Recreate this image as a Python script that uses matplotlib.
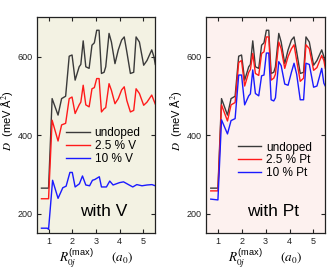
import numpy as np
import matplotlib
matplotlib.use("Agg")
import matplotlib.pyplot as plt

plt.rcParams['font.family'] = ['Liberation Sans', 'DejaVu Sans']
plt.rcParams['mathtext.fontset'] = 'stix'

# --- data ---
x_main = [0.7, 1.0, 1.15, 1.4, 1.55, 1.72, 1.87, 1.99, 2.12, 2.29,
          2.36, 2.46, 2.57, 2.71, 2.83, 2.93, 3.03, 3.13, 3.23, 3.34,
          3.41, 3.55, 3.65, 3.8, 3.94, 4.08, 4.19, 4.3, 4.45, 4.59,
          4.69, 4.83, 5.01, 5.15, 5.35, 5.44, 5.5]
undoped = [265, 265, 493, 451, 493, 499, 601, 604, 540, 574,
           580, 640, 574, 570, 629, 635, 667, 667, 557, 560,
           574, 659, 637, 582, 617, 642, 650, 612, 557, 560,
           650, 637, 578, 590, 617, 600, 580]
v25 = [238, 238, 438, 385, 426, 430, 493, 497, 455, 477,
       484, 527, 477, 472, 518, 521, 544, 544, 459, 467,
       470, 531, 514, 480, 493, 515, 523, 488, 459, 463,
       518, 506, 476, 484, 502, 488, 479]
pt25 = [258, 258, 477, 436, 477, 483, 585, 590, 525, 560,
        567, 608, 557, 552, 608, 612, 650, 650, 540, 545,
        555, 637, 620, 570, 600, 620, 630, 590, 537, 545,
        630, 620, 565, 572, 603, 590, 570]
pt10 = [237, 235, 439, 403, 437, 442, 553, 553, 477, 500,
        505, 566, 506, 500, 551, 553, 609, 609, 490, 487,
        495, 587, 577, 530, 527, 560, 583, 555, 490, 490,
        583, 580, 522, 525, 570, 532, 525]

x_v10 = [0.7, 0.95, 1.0, 1.17, 1.4, 1.6, 1.74, 1.9, 2.0, 2.12,
         2.3, 2.43, 2.57, 2.73, 2.85, 2.95, 3.14, 3.23, 3.44, 3.58,
         3.72, 3.99, 4.16, 4.37, 4.55, 4.72, 4.94, 5.15, 5.36, 5.5]
v10 = [163, 163, 160, 285, 239, 266, 270, 305, 305, 268,
       276, 296, 273, 271, 285, 287, 294, 268, 268, 283,
       273, 279, 281, 274, 268, 274, 271, 273, 274, 271]

xticks = [1, 2, 3, 4, 5]
yticks = [200, 400, 600]

W, H = 334, 271
fig = plt.figure(figsize=(W / 100, H / 100), dpi=100)

ax1 = fig.add_axes([36.7 / W, 1 - 233.3 / H, 118.6 / W, 216 / H])
ax2 = fig.add_axes([206 / W, 1 - 233.3 / H, 119.3 / W, 216 / H])

gray, red, blue = '#3a3a3a', '#ff1a1a', '#1a1aff'

ax1.plot(x_main, undoped, color=gray, lw=1.0, label='undoped')
ax1.plot(x_main, v25, color=red, lw=1.0, label='2.5 % V')
ax1.plot(x_v10, v10, color=blue, lw=1.0, label='10 % V')
ax1.set_facecolor('#f3f2e3')

ax2.plot(x_main, undoped, color=gray, lw=1.0, label='undoped')
ax2.plot(x_main, pt25, color=red, lw=1.0, label='2.5 % Pt')
ax2.plot(x_main, pt10, color=blue, lw=1.0, label='10 % Pt')
ax2.set_facecolor('#fdf1ef')

for ax, tag, leg_anchor in [(ax1, 'with V', (0.25, 0.49)),
                            (ax2, 'with Pt', (0.265, 0.425))]:
    ax.set_xlim(0.5, 5.5)
    ax.set_ylim(150, 700)
    ax.set_xticks(xticks)
    ax.set_yticks(yticks)
    ax.tick_params(direction='in', length=3, width=0.8, labelsize=6.5,
                   top=True, right=True, pad=3, colors='#222222')
    for s in ax.spines.values():
        s.set_linewidth(0.9)
        s.set_color('#222222')
    ax.text(0.565, 0.099, tag, transform=ax.transAxes, ha='center',
            va='center', fontsize=12.5)
    ax.legend(loc='upper left', bbox_to_anchor=leg_anchor, frameon=False,
              fontsize=8.5, handlelength=2.0, handletextpad=0.4,
              labelspacing=0.05, borderpad=0, borderaxespad=0)
    ax.set_xlabel(r'$R_{0j}^{\mathregular{(max)}}$     $(a_0)$', fontsize=9.5,
                  labelpad=0)
    ax.set_ylabel(r'$D$  (meV Å$^{2}$)', fontsize=8)
    ax.yaxis.set_label_coords(-0.185, 0.52)

fig.savefig('out.png', dpi=100)
